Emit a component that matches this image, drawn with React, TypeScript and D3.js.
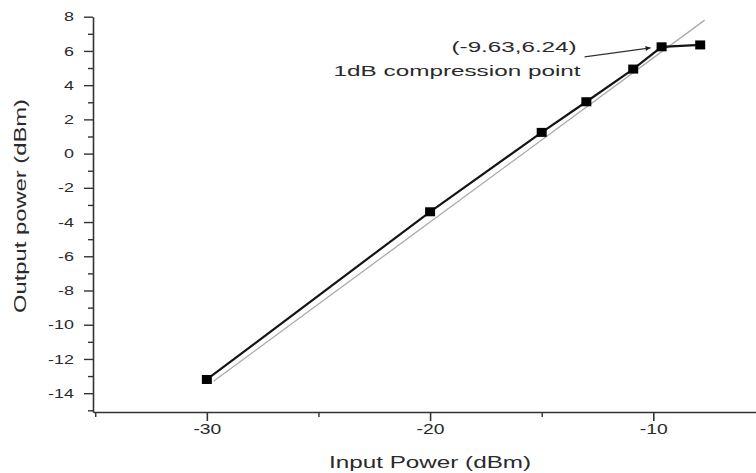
import React, { useRef, useEffect } from 'react';
import * as d3 from 'd3';

// measured data (input dBm -> output dBm)
const inputPower = [-30, -20, -15, -13, -10.9, -9.63, -7.9];
const outputPower = [-13.2, -3.4, 1.24, 3.03, 4.94, 6.24, 6.35];

// ideal linear response (thin grey line)
const idealX = [-29.7, -7.7];
const idealY = [-13.3, 7.8];

const xMajorTicks = [-30, -20, -10];
const xMinorTicks = [-35, -25, -15];
const yMajorTicks = [-14, -12, -10, -8, -6, -4, -2, 0, 2, 4, 6, 8];
const yMinorTicks = [-15, -13, -11, -9, -7, -5, -3, -1, 1, 3, 5, 7];

const compressionPoint = { x: -9.63, y: 6.24 };

const W = 756;
const H = 473;
const FONT = "'Liberation Sans', Arial, sans-serif";

const App = () => {
    const svgRef = useRef<SVGSVGElement>(null);

    useEffect(() => {
        const svg = d3.select(svgRef.current);
        svg.selectAll('*').remove();

        const x = d3.scaleLinear().domain([-35.1, -5.4]).range([93, 756]);
        const y = d3.scaleLinear().domain([-15.1, 8]).range([412, 16.7]);

        const axisColor = '#333';
        const textColor = '#2a2a2a';
        const stretch = 1.38;
        const plain = (d: d3.NumberValue) => String(d); // keep ASCII hyphen minus

        // X axis
        const gx = svg.append('g').attr('transform', `translate(0,412)`);
        gx.call(d3.axisBottom(x).tickValues(xMajorTicks).tickSize(9).tickSizeOuter(0).tickPadding(3).tickFormat(plain));
        gx.select('.domain').attr('stroke', axisColor).attr('stroke-width', 1.6);
        gx.selectAll('.tick line').attr('stroke', axisColor).attr('stroke-width', 1.6);
        gx.selectAll('.tick text')
            .attr('fill', textColor)
            .style('font-family', FONT)
            .style('font-size', '14px')
            .attr('transform', `scale(${stretch},1)`);
        const gxm = svg.append('g').attr('transform', `translate(0,412)`);
        gxm.call(d3.axisBottom(x).tickValues(xMinorTicks).tickSize(5).tickFormat(() => ''));
        gxm.select('.domain').remove();
        gxm.selectAll('.tick line').attr('stroke', axisColor).attr('stroke-width', 1.4);

        // Y axis
        const gy = svg.append('g').attr('transform', `translate(93,0)`);
        gy.call(d3.axisLeft(y).tickValues(yMajorTicks).tickSize(9).tickSizeOuter(0).tickFormat(plain));
        gy.select('.domain').attr('stroke', axisColor).attr('stroke-width', 1.6);
        gy.selectAll('.tick line').attr('stroke', axisColor).attr('stroke-width', 1.4);
        gy.selectAll('.tick text')
            .attr('fill', textColor)
            .attr('x', -19 / stretch)
            .style('font-family', FONT)
            .style('font-size', '13px')
            .attr('transform', `scale(${stretch},1)`);
        const gym = svg.append('g').attr('transform', `translate(93,0)`);
        gym.call(d3.axisLeft(y).tickValues(yMinorTicks).tickSize(5).tickFormat(() => ''));
        gym.select('.domain').remove();
        gym.selectAll('.tick line').attr('stroke', axisColor).attr('stroke-width', 1.4);

        // Axis labels
        svg.append('text')
            .attr('x', (x(-30) + x(-10)) / 2 - 101)
            .attr('y', 468)
            .attr('textLength', 202)
            .attr('lengthAdjust', 'spacingAndGlyphs')
            .attr('fill', textColor)
            .style('font-family', FONT)
            .style('font-size', '16px')
            .text('Input Power (dBm)');

        svg.append('text')
            .attr('transform', `translate(26,313) rotate(-90)`)
            .attr('textLength', 214)
            .attr('lengthAdjust', 'spacingAndGlyphs')
            .attr('fill', textColor)
            .style('font-family', FONT)
            .style('font-size', '16px')
            .text('Output power (dBm)');

        // Ideal linear line
        const idealData = idealX.map((d, i) => [d, idealY[i]] as [number, number]);
        svg.append('path')
            .datum(idealData)
            .attr('fill', 'none')
            .attr('stroke', '#aaa')
            .attr('stroke-width', 1.3)
            .attr('d', d3.line().x(d => x(d[0])).y(d => y(d[1])));

        // Measured line
        const data = inputPower.map((d, i) => [d, outputPower[i]] as [number, number]);
        svg.append('path')
            .datum(data)
            .attr('fill', 'none')
            .attr('stroke', '#151515')
            .attr('stroke-width', 2.2)
            .attr('d', d3.line().x(d => x(d[0])).y(d => y(d[1])));

        // Square markers
        svg.selectAll('rect.pt')
            .data(data)
            .enter().append('rect')
            .attr('class', 'pt')
            .attr('x', d => x(d[0]) - 5)
            .attr('y', d => y(d[1]) - 4.5)
            .attr('width', 10)
            .attr('height', 9)
            .attr('fill', '#000');

        // Annotation
        const px = x(compressionPoint.x);
        const py = y(compressionPoint.y);

        svg.append('defs').append('marker')
            .attr('id', 'arrow')
            .attr('viewBox', '0 0 10 10')
            .attr('refX', 10)
            .attr('refY', 5)
            .attr('markerWidth', 7)
            .attr('markerHeight', 5)
            .attr('markerUnits', 'userSpaceOnUse')
            .attr('orient', 'auto')
            .append('path')
            .attr('d', 'M0,0L10,5L0,10Z')
            .attr('fill', '#222');

        svg.append('line')
            .attr('x1', px - 77)
            .attr('y1', py + 10)
            .attr('x2', px - 11)
            .attr('y2', py + 1)
            .attr('stroke', '#333')
            .attr('stroke-width', 1.2)
            .attr('marker-end', 'url(#arrow)');

        svg.append('text')
            .attr('x', px - 210)
            .attr('y', 52)
            .attr('textLength', 125)
            .attr('lengthAdjust', 'spacingAndGlyphs')
            .attr('fill', textColor)
            .style('font-family', FONT)
            .style('font-size', '15.5px')
            .text(`(${compressionPoint.x},${compressionPoint.y})`);

        svg.append('text')
            .attr('x', px - 328)
            .attr('y', 76)
            .attr('textLength', 247)
            .attr('lengthAdjust', 'spacingAndGlyphs')
            .attr('fill', textColor)
            .style('font-family', FONT)
            .style('font-size', '15.5px')
            .text('1dB compression point');
    }, []);

    return (
        <svg
            ref={svgRef}
            width={W}
            height={H}
            style={{ position: 'absolute', left: 0, top: 0, background: '#fff' }}
        />
    );
};

export default App;
